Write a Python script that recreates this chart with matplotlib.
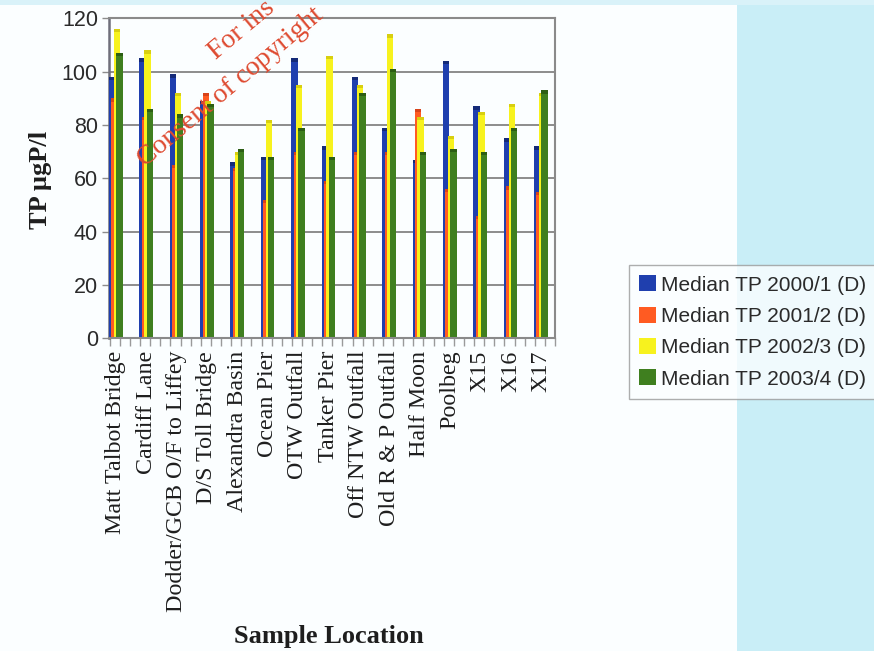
import matplotlib
matplotlib.use("Agg")
import matplotlib.pyplot as plt
import numpy as np
from matplotlib.patches import Rectangle, Patch

# Median total phosphorus per sampling location and season
locations = ["Matt Talbot Bridge", "Cardiff Lane", "Dodder/GCB O/F to Liffey",
             "D/S Toll Bridge", "Alexandra Basin", "Ocean Pier", "OTW Outfall",
             "Tanker Pier", "Off NTW Outfall", "Old R & P Outfall", "Half Moon",
             "Poolbeg", "X15", "X16", "X17"]
tp_2000_1 = [98, 105, 99, 89, 66, 68, 105, 72, 98, 79, 67, 104, 87, 75, 72]
tp_2001_2 = [90, 83, 65, 92, 64, 52, 70, 59, 70, 70, 86, 56, 46, 57, 55]
tp_2002_3 = [116, 108, 92, 89, 70, 82, 95, 106, 95, 114, 83, 76, 85, 88, 92]
tp_2003_4 = [107, 86, 84, 88, 71, 68, 79, 68, 92, 101, 70, 71, 70, 79, 93]
series_names = ["Median TP 2000/1 (D)", "Median TP 2001/2 (D)",
                "Median TP 2002/3 (D)", "Median TP 2003/4 (D)"]
y_ticks = [0, 20, 40, 60, 80, 100, 120]

series = [tp_2000_1, tp_2001_2, tp_2002_3, tp_2003_4]
colors = ["#1f3fae", "#ff5b22", "#f7f21e", "#3f7f1f"]
caps = ["#142a78", "#d8431a", "#d8cf10", "#2c5e14"]

W, H = 874, 651
fig = plt.figure(figsize=(W / 100, H / 100), dpi=100)
fig.patch.set_facecolor("#fbfeff")

# tinted side panel and top band of the page
fig.add_artist(Rectangle((737 / W, 0), 1 - 737 / W, 1, transform=fig.transFigure,
                         facecolor="#c9eef7", edgecolor="none", zorder=0))
fig.add_artist(Rectangle((0, 1 - 5 / H), 1, 5 / H, transform=fig.transFigure,
                         facecolor="#d9f2f9", edgecolor="none", zorder=0))

left, right, top, bottom = 109, 555, 18.3, 338.3
ax = fig.add_axes([left / W, 1 - bottom / H, (right - left) / W, (bottom - top) / H])
ax.set_facecolor("none")

x = np.arange(len(locations))
width = 0.21
offsets = [-0.12, -0.04, 0.04, 0.12]
for k, (vals, col, cap) in enumerate(zip(series, colors, caps)):
    ax.bar(x + offsets[k], vals, width=width, color=col, edgecolor="none",
           zorder=3 + k, label=series_names[k])
    # darker cap on each column top
    ax.bar(x + offsets[k], [1.3] * len(vals), bottom=np.array(vals) - 1.3,
           width=width, color=cap, edgecolor="none", zorder=3 + k)

ax.set_xlim(-0.225, len(locations) - 1 + 0.225)
ax.set_ylim(0, 120)
ax.set_yticks(y_ticks)
ax.set_yticklabels([str(v) for v in y_ticks], family="Liberation Sans",
                   fontsize=15.5, color="#2a2a2a")
ax.yaxis.grid(True, color="#8c8c8c", linewidth=1.4, zorder=1)
ax.set_axisbelow(True)

ax.set_xticks(x)
ax.set_xticklabels(locations, rotation=90, family="Liberation Serif",
                   fontsize=17.3, color="#1e1e1e")
ax.tick_params(axis="x", which="major", length=0, pad=9)
ax.set_xticks(np.arange(-0.2, len(locations) - 0.5, 1 / 3), minor=True)
ax.tick_params(axis="x", which="minor", length=6, width=1, color="#9a9a9a",
               direction="out")
ax.tick_params(axis="y", length=5, width=1, color="#8c8c8c", pad=3)

for side in ["top", "right", "bottom"]:
    ax.spines[side].set_color("#8a8a8a")
    ax.spines[side].set_linewidth(1.5)
ax.spines["left"].set_color("#6f6f7a")
ax.spines["left"].set_linewidth(1.8)
ax.spines["bottom"].set_zorder(10)

fig.text(40 / W, 1 - 180 / H, "TP µgP/l", rotation=90, ha="center", va="center",
         family="Liberation Serif", fontweight="bold", fontsize=19, color="#1e1e1e")
fig.text(329 / W, 1 - 636 / H, "Sample Location", ha="center", va="center",
         family="Liberation Serif", fontweight="bold", fontsize=19, color="#1e1e1e")

handles = [Patch(facecolor=c, edgecolor="none") for c in colors]
leg = fig.legend(handles, series_names, loc="upper left",
                 bbox_to_anchor=(629 / W, 1 - 265 / H), frameon=True,
                 fancybox=False, prop={"family": "Liberation Sans", "size": 15},
                 handlelength=0.8, handleheight=0.8, handletextpad=0.25,
                 labelspacing=0.58, borderpad=0.5, borderaxespad=0)
leg.get_frame().set_edgecolor("#9a9a9a")
leg.get_frame().set_facecolor("#fbfeff")
leg.get_frame().set_linewidth(1.0)
for t in leg.get_texts():
    t.set_color("#2a2a2a")

# diagonal copyright stamp
stamp = dict(rotation=40, rotation_mode="anchor", ha="left", va="baseline",
             family="Liberation Serif", fontsize=20, color="#de4a30", zorder=20)
fig.text(216 / W, 1 - 60 / H, "For ins", **stamp)
fig.text(145 / W, 1 - 167 / H, "Consent of copyright", **stamp)

fig.savefig("out.png", dpi=100, facecolor=fig.get_facecolor())
